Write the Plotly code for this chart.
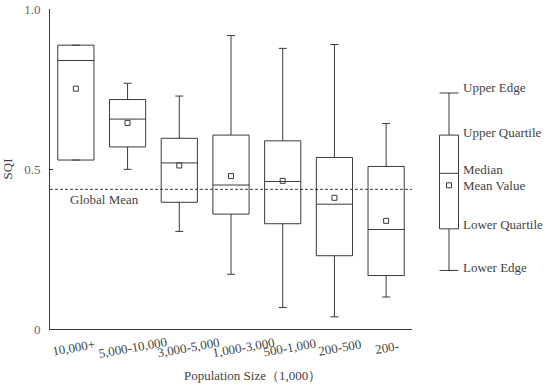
import plotly.graph_objects as go

categories = ["10,000+", "5,000-10,000", "3,000-5,000", "1,000-3,000", "500-1,000", "200-500", "200-"]
lower_edge = [0.528, 0.499, 0.305, 0.171, 0.067, 0.038, 0.100]
lower_quartile = [0.528, 0.569, 0.396, 0.359, 0.329, 0.229, 0.167]
median = [0.839, 0.656, 0.519, 0.450, 0.461, 0.390, 0.311]
upper_quartile = [0.887, 0.717, 0.596, 0.606, 0.588, 0.536, 0.508]
upper_edge = [0.887, 0.768, 0.728, 0.917, 0.877, 0.889, 0.642]
mean_value = [0.751, 0.644, 0.511, 0.478, 0.463, 0.410, 0.338]
global_mean = 0.4365

legend_labels = ["Upper Edge", "Upper Quartile", "Median", "Mean Value", "Lower Quartile", "Lower Edge"]
legend_stats = [0.7375, 0.606, 0.4865, 0.449, 0.313, 0.183]  # upper, q3, median, mean, q1, lower

FONT = "Liberation Serif, Times New Roman, serif"
TXT = "#444444"
LINE = "#3a3a3a"

fig = go.Figure()
fig.add_trace(go.Box(
    x=categories, q1=lower_quartile, median=median, q3=upper_quartile,
    lowerfence=lower_edge, upperfence=upper_edge,
    width=0.7, whiskerwidth=0.22, fillcolor="rgba(0,0,0,0)",
    line=dict(color=LINE, width=1), boxpoints=False, showlegend=False,
    hoverinfo="skip"))
fig.add_trace(go.Scatter(
    x=categories, y=mean_value, mode="markers",
    marker=dict(symbol="square-open", size=5, color=LINE, line=dict(width=1)),
    showlegend=False))

# legend box
fig.add_trace(go.Box(
    x=["legend"], q1=[legend_stats[4]], median=[legend_stats[2]], q3=[legend_stats[1]],
    lowerfence=[legend_stats[5]], upperfence=[legend_stats[0]],
    width=0.5, whiskerwidth=1, fillcolor="rgba(0,0,0,0)",
    line=dict(color=LINE, width=1), boxpoints=False, showlegend=False,
    xaxis="x2", yaxis="y"))
fig.add_trace(go.Scatter(
    x=["legend"], y=[legend_stats[3]], mode="markers",
    marker=dict(symbol="square-open", size=5, color=LINE, line=dict(width=1)),
    showlegend=False, xaxis="x2", yaxis="y"))

label_y_shift = [6, 3, 4, 0, 4, 3]
for lab, val, dy in zip(legend_labels, legend_stats, label_y_shift):
    fig.add_annotation(x=0.822, y=val, xref="paper", yref="y", text=lab, showarrow=False,
                       xanchor="left", yanchor="middle", yshift=dy,
                       font=dict(family=FONT, size=13, color=TXT))

fig.add_shape(type="line", xref="x domain", yref="y", x0=0, x1=1, y0=global_mean, y1=global_mean,
              line=dict(color=LINE, width=1, dash="3px,2px"))
fig.add_annotation(x=0.108, y=global_mean, xref="paper", yref="y", text="Global Mean",
                   showarrow=False, xanchor="center", yanchor="top", yshift=-1,
                   font=dict(family=FONT, size=13, color=TXT))

label_dx = [-2, 5, 9, 12, 7, 5, 1]
for c, dx in zip(categories, label_dx):
    fig.add_annotation(x=c, y=0, xref="x", yref="paper", text=c, showarrow=False,
                       textangle=-10, xanchor="center", yanchor="middle", xshift=dx, yshift=-18,
                       font=dict(family=FONT, size=13, color=TXT))

fig.add_annotation(x=0.404, y=0, xref="paper", yref="paper", text="Population Size（1,000）",
                   showarrow=False, xanchor="center", yanchor="middle", yshift=-46,
                   font=dict(family=FONT, size=13, color=TXT))

fig.update_layout(
    width=550, height=385,
    margin=dict(l=50, r=0, t=9, b=56),
    paper_bgcolor="white", plot_bgcolor="white",
    font=dict(family=FONT, size=12, color=TXT),
    xaxis=dict(domain=[0, 0.724], range=[-0.5, 6.5], type="category",
               showticklabels=False, ticks="", showline=True, linecolor=LINE, linewidth=1,
               showgrid=False, zeroline=False),
    xaxis2=dict(domain=[0.76, 0.836], range=[-0.5, 0.5], type="category", anchor="y",
                visible=False),
    yaxis=dict(range=[0, 1], tickvals=[0, 0.5, 1.0], ticktext=["0", "0.5", "1.0"],
               ticks="inside", ticklen=3, tickcolor=LINE, showline=True, linecolor=LINE,
               linewidth=1, showgrid=False, zeroline=False, ticklabelstandoff=6,
               title=dict(text="SQI", font=dict(family=FONT, size=13, color=TXT), standoff=14),
               tickfont=dict(family=FONT, size=13, color="#666666")),
)

fig.write_html("out.html", config={"displayModeBar": False},
               post_script="document.body.style.margin='0';")
